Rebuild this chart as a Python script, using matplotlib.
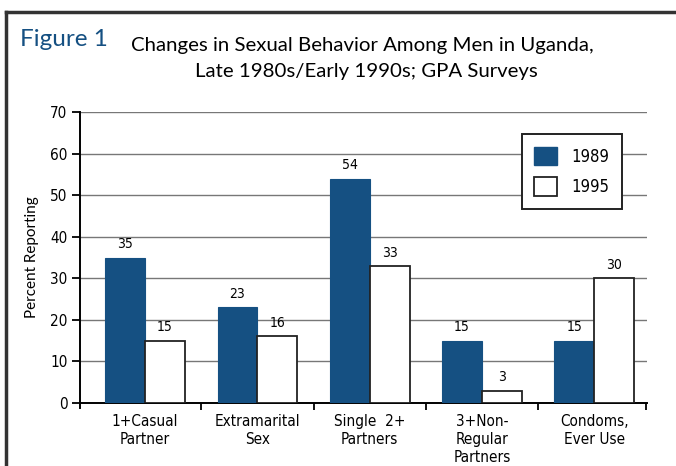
import matplotlib
matplotlib.use("Agg")
import matplotlib.pyplot as plt
import numpy as np
from matplotlib.lines import Line2D
from matplotlib.patches import Patch

categories = ["1+Casual\nPartner", "Extramarital\nSex", "Single  2+\nPartners",
              "3+Non-\nRegular\nPartners", "Condoms,\nEver Use"]
vals_1989 = [35, 23, 54, 15, 15]
vals_1995 = [15, 16, 33, 3, 30]
yticks = [0, 10, 20, 30, 40, 50, 60, 70]

blue = '#155082'
narrow = dict(family='DejaVu Sans', stretch='condensed')
plain = ['Lato', 'DejaVu Sans']

fig = plt.figure(figsize=(6.76, 4.66), dpi=100)
ax = fig.add_axes([80/676, 63/466, 567/676, 291/466])

x = np.arange(len(categories))
width = 0.355
ax.bar(x - width/2, vals_1989, width, color=blue, edgecolor=blue, linewidth=0.8, zorder=3)
ax.bar(x + width/2, vals_1995, width, color='white', edgecolor='#222222', linewidth=1.3, zorder=3)

for i, (a, b) in enumerate(zip(vals_1989, vals_1995)):
    ax.text(i - width/2, a + 1.5, str(a), ha='center', va='bottom', fontsize=10, **narrow)
    ax.text(i + width/2, b + 1.5, str(b), ha='center', va='bottom', fontsize=10, **narrow)

ax.set_xlim(-0.58, 4.47)
ax.set_ylim(0, 70)
ax.set_yticks(yticks)
ax.set_yticklabels([str(t) for t in yticks], fontsize=11, **narrow)
ax.grid(axis='y', color='#777777', linewidth=1.0, zorder=0)
ax.set_axisbelow(True)

# category boundaries as ticks, labels at centers
ax.set_xticks([0.5, 1.5, 2.5, 3.5, 4.465])
ax.set_xticklabels([])
ax.set_xticks(x, minor=True)
ax.set_xticklabels(categories, minor=True, fontsize=11, linespacing=1.25, va='top', **narrow)
ax.tick_params(axis='x', which='minor', length=0, pad=8)
ax.tick_params(axis='x', which='major', length=5, width=1.3, direction='out')
ax.tick_params(axis='y', length=6, width=1.3, direction='out', pad=3)

for s in ['top', 'right']:
    ax.spines[s].set_visible(False)
ax.spines['left'].set_linewidth(1.4)
ax.spines['bottom'].set_linewidth(1.4)
ax.spines['left'].set_bounds(-1.3, 70)

ax.set_ylabel('Percent Reporting', family=plain, fontsize=11, labelpad=8)

handles = [Patch(facecolor=blue, edgecolor=blue), Patch(facecolor='white', edgecolor='#222222', linewidth=1.3)]
leg = ax.legend(handles, ['1989', '1995'], loc='upper right', bbox_to_anchor=(0.956, 0.924),
                frameon=True, fancybox=False, edgecolor='#222222', framealpha=1,
                prop=dict(size=12, **narrow), handlelength=1.35, handleheight=1.35,
                labelspacing=0.7, borderpad=0.75, handletextpad=0.9, borderaxespad=0)
leg.get_frame().set_linewidth(1.4)
leg.set_zorder(5)

# titles
fig.text(20/676, 1 - 40/466, 'Figure 1', color=blue, fontsize=17.5, family=plain, va='center')
fig.text(362/676, 1 - 45/466, 'Changes in Sexual Behavior Among Men in Uganda,',
         ha='center', va='center', fontsize=14.7, family=plain)
fig.text(366/676, 1 - 71/466, 'Late 1980s/Early 1990s; GPA Surveys',
         ha='center', va='center', fontsize=14.7, family=plain)

# frame around figure
fig.add_artist(Line2D([6/676, 1.0], [1 - 12/466, 1 - 12/466], color='#333333', linewidth=2.5))
fig.add_artist(Line2D([6/676, 6/676], [1 - 12/466, 0], color='#333333', linewidth=2.5))

fig.savefig('out.png', dpi=100)
